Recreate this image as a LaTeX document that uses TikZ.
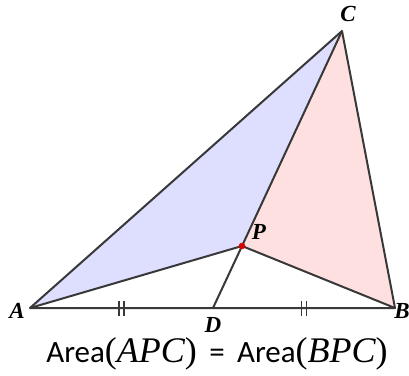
\documentclass[tikz,border=0pt]{standalone}
\usepackage{fontspec}
\setmainfont{Carlito}
\newfontfamily\lserif{Liberation Serif}
\newcommand{\mpart}[1]{{\lserif\fontsize{36}{36}\selectfont(\itshape #1\upshape)}}
\begin{document}
\begin{tikzpicture}[x=1pt,y=-1pt,
  edge/.style={draw=black!78,line width=2pt},
  lbl/.style={font=\lserif\bfseries\itshape\fontsize{23}{23}\selectfont,inner sep=0pt},
  tick/.style={draw=black!78,line width=1.5pt}]
\useasboundingbox (0,0) rectangle (409,375);
\coordinate (A) at (30,308);
\coordinate (B) at (395,308);
\coordinate (C) at (342,31);
\coordinate (D) at (213,308);
\coordinate (P) at (242,246);
\fill[blue!13] (A) -- (P) -- (C) -- cycle;
\fill[red!12] (B) -- (P) -- (C) -- cycle;
\draw[edge,line join=round] (A) -- (C) -- (B) -- cycle;
\draw[edge] (A) -- (P) -- (B);
\draw[edge] (D) -- (P) -- (C);
\coordinate (T1) at (121.5,308);
\coordinate (T2) at (304,308);
\foreach \t in {T1,T2}{
  \draw[tick] ([xshift=-2.5pt,yshift=-7.5pt]\t) -- ([xshift=-2.5pt,yshift=7.5pt]\t);
  \draw[tick] ([xshift=2.5pt,yshift=-7.5pt]\t) -- ([xshift=2.5pt,yshift=7.5pt]\t);
}
\fill[red!85!black] (P) circle (3.3pt);
\node[lbl] (lA) at (17,311) {A};
\node[lbl] (lB) at (402,311) {B};
\node[lbl] (lC) at (348,14) {C};
\node[lbl] (lD) at (213,325) {D};
\node[lbl] (lP) at (259,232) {P};
\node[inner sep=0pt,font=\fontsize{31}{31}\selectfont] (eq) at (217,354) {Area\mpart{APC}\hspace{0.4em}=\hspace{0.4em}Area\mpart{BPC}};
\end{tikzpicture}
\end{document}
